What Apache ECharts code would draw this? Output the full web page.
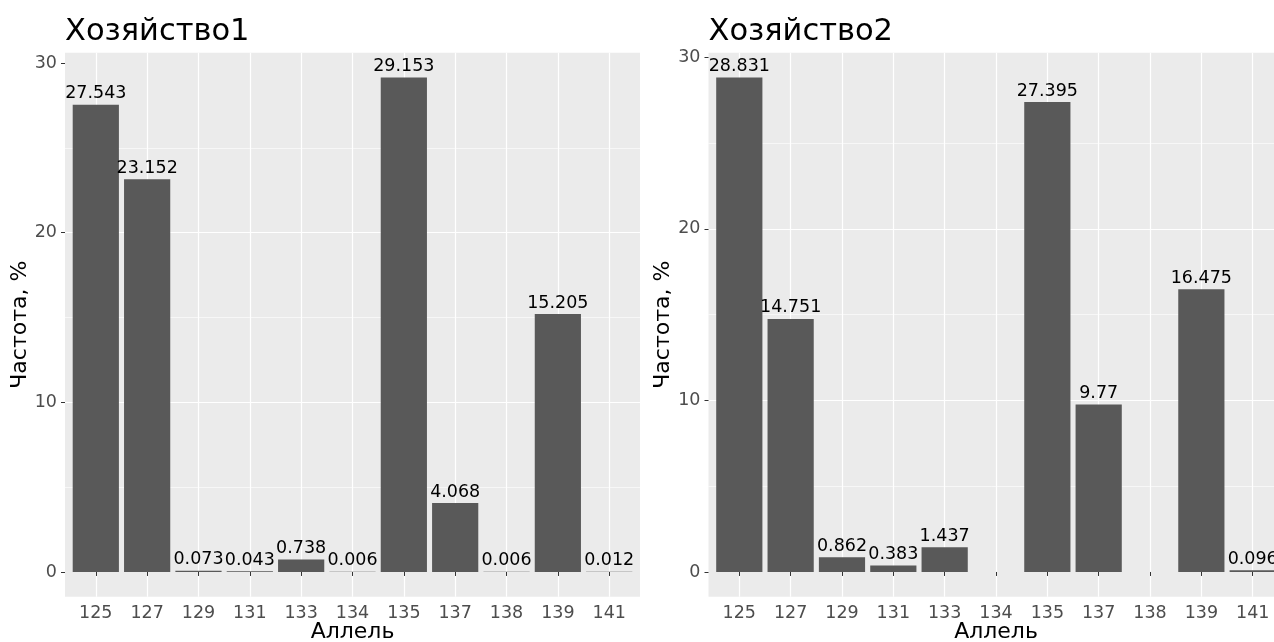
<!DOCTYPE html>
<html><head><meta charset="utf-8">
<script src="https://cdn.jsdelivr.net/npm/echarts@6/dist/echarts.min.js"></script>
<style>html,body{margin:0;padding:0;background:#fff}#c{width:1274px;height:642px}</style>
</head><body><div id="c"></div>
<script>
const categories = ['125','127','129','131','133','134','135','137','138','139','141'];
const farm1Values = [27.543, 23.152, 0.073, 0.043, 0.738, 0.006, 29.153, 4.068, 0.006, 15.205, 0.012];
const farm2Values = [28.831, 14.751, 0.862, 0.383, 1.437, null, 27.395, 9.77, null, 16.475, 0.096];
const yTicks = [0, 10, 20, 30];
const titles = ['Хозяйство1', 'Хозяйство2'];
const xTitle = 'Аллель';
const yTitle = 'Частота, %';

const FONT = 'DejaVu Sans';
const panels = [
  {left: 65, values: farm1Values, title: titles[0]},
  {left: 708.5, values: farm2Values, title: titles[1]}
];
const panelTop = 52.7, panelHeight = 544, panelWidth = 575;

const grid = [], xAxis = [], yAxis = [], series = [], title = [];
panels.forEach((p, i) => {
  const vals = p.values.filter(v => v != null);
  const vmax = Math.max(...vals);
  const ymin = -0.05 * vmax, ymax = vmax * 1.05;
  const band = panelWidth / (categories.length + 0.2);
  const inset = 0.1 * band;
  grid.push({left: p.left, top: panelTop, width: panelWidth, height: panelHeight,
    show: true, backgroundColor: '#EBEBEB', borderWidth: 0,
    containLabel: false, outerBoundsMode: 'none'});
  grid.push({left: p.left + inset, top: panelTop, width: panelWidth - 2 * inset, height: panelHeight,
    containLabel: false, outerBoundsMode: 'none'});
  xAxis.push({gridIndex: 2 * i, type: 'value', min: 0, max: 1, show: false});
  xAxis.push({gridIndex: 2 * i + 1, type: 'category', data: categories, boundaryGap: true,
    axisLine: {show: false},
    axisTick: {show: true, alignWithLabel: true, length: 4, lineStyle: {color: '#333333', width: 1}},
    axisLabel: {color: '#4D4D4D', fontSize: 17.5, fontFamily: FONT, margin: 8},
    splitLine: {show: true, alignWithLabel: true, lineStyle: {color: '#FFFFFF', width: 1.2}},
    name: xTitle, nameLocation: 'middle', nameGap: 25, nameMoveOverlap: false,
    nameTextStyle: {fontSize: 22, color: '#000', fontFamily: FONT}
  });
  yAxis.push({gridIndex: 2 * i, type: 'value', min: ymin, max: ymax, splitNumber: 3,
    axisLine: {show: false},
    axisTick: {show: true, customValues: yTicks, length: 4, lineStyle: {color: '#333333', width: 1}},
    axisLabel: {customValues: yTicks,
      color: '#4D4D4D', fontSize: 17.5, fontFamily: FONT, margin: 8},
    splitLine: {show: true, showMinLine: false, showMaxLine: false, lineStyle: {color: '#FFFFFF', width: 1.2}},
    minorTick: {show: false, splitNumber: 2},
    minorSplitLine: {show: true, lineStyle: {color: '#FFFFFF', width: 0.6}},
    name: yTitle, nameLocation: 'middle', nameGap: 33, nameRotate: 90,
    nameTextStyle: {fontSize: 22, color: '#000', fontFamily: FONT}
  });
  yAxis.push({gridIndex: 2 * i + 1, type: 'value', min: ymin, max: ymax, show: false,
    splitLine: {show: false}});
  series.push({type: 'bar', xAxisIndex: 2 * i + 1, yAxisIndex: 2 * i + 1,
    data: p.values, barWidth: '90%', z: 3,
    itemStyle: {color: '#595959'},
    label: {show: true, position: 'top', distance: 2, color: '#000', fontSize: 17.5, fontFamily: FONT,
      formatter: q => String(q.value)}
  });
  title.push({text: p.title, left: p.left, top: 17, padding: 0,
    textStyle: {fontSize: 30.5, fontWeight: 'normal', color: '#000', fontFamily: FONT}});
});

const chart = echarts.init(document.getElementById('c'), null, {renderer: 'canvas'});
chart.setOption({animation: false, backgroundColor: '#FFFFFF', textStyle: {fontFamily: FONT},
  title, grid, xAxis, yAxis, series});
</script></body></html>
